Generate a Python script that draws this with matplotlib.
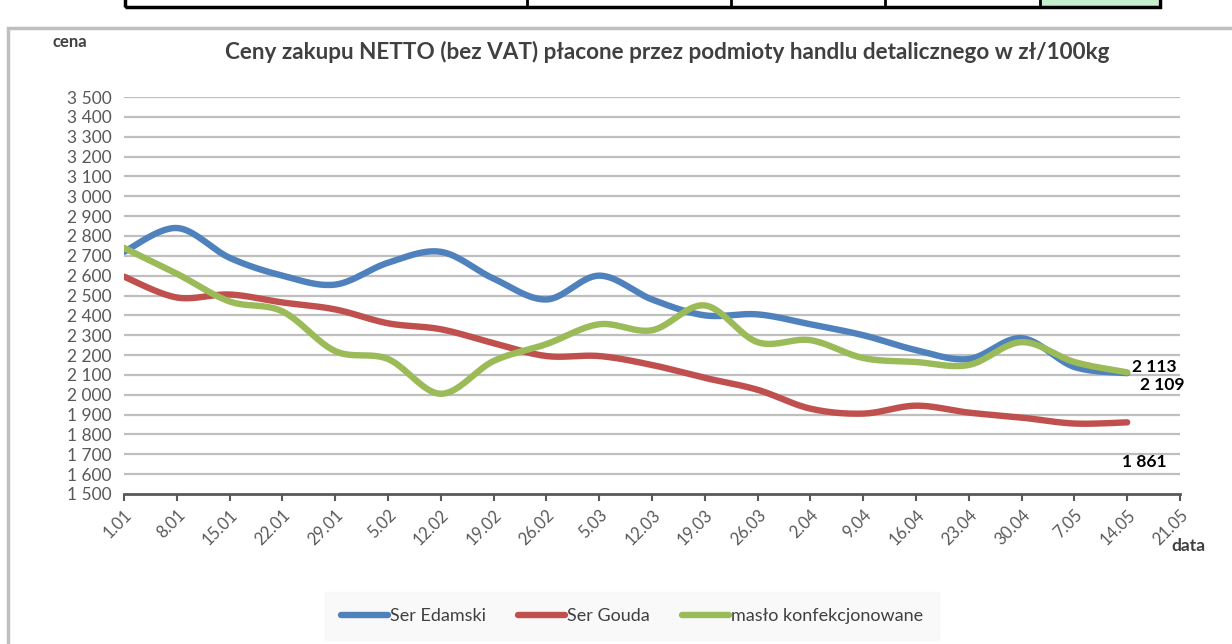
import numpy as np
import matplotlib.pyplot as plt
from matplotlib.patches import Rectangle
from matplotlib.lines import Line2D

plt.rcParams['font.family'] = ['Lato', 'DejaVu Sans']

dates = ['1.01', '8.01', '15.01', '22.01', '29.01', '5.02', '12.02', '19.02', '26.02', '5.03',
         '12.03', '19.03', '26.03', '2.04', '9.04', '16.04', '23.04', '30.04', '7.05', '14.05', '21.05']

edamski = [2720, 2840, 2690, 2600, 2555, 2665, 2720, 2585, 2480, 2600,
           2480, 2400, 2405, 2355, 2300, 2225, 2180, 2285, 2140, 2109]
gouda = [2595, 2490, 2505, 2465, 2430, 2360, 2330, 2260, 2195, 2195,
         2150, 2085, 2025, 1930, 1905, 1945, 1910, 1885, 1855, 1861]
maslo = [2740, 2610, 2470, 2420, 2220, 2180, 2005, 2170, 2255, 2355,
         2325, 2450, 2265, 2275, 2185, 2165, 2150, 2265, 2165, 2113]

names = ['Ser Edamski', 'Ser Gouda', 'masło konfekcjonowane']
colors = ['#4F81BD', '#C0504D', '#9BBB59']


def smooth(y, n=20):
    # excel-like smoothed line (catmull-rom)
    y = np.asarray(y, dtype=float)
    x = np.arange(len(y), dtype=float)
    px = np.concatenate([[x[0]], x, [x[-1]]])
    py = np.concatenate([[y[0]], y, [y[-1]]])
    xs, ys = [], []
    t = np.linspace(0, 1, n, endpoint=False)
    for i in range(1, len(px) - 2):
        p0, p1, p2, p3 = py[i - 1], py[i], py[i + 1], py[i + 2]
        q0, q1, q2, q3 = px[i - 1], px[i], px[i + 1], px[i + 2]
        c1y, c2y = p1 + (p2 - p0) / 6, p2 - (p3 - p1) / 6
        c1x, c2x = q1 + (q2 - q0) / 6, q2 - (q3 - q1) / 6
        b = [(1 - t) ** 3, 3 * (1 - t) ** 2 * t, 3 * (1 - t) * t ** 2, t ** 3]
        xs.append(b[0] * q1 + b[1] * c1x + b[2] * c2x + b[3] * q2)
        ys.append(b[0] * p1 + b[1] * c1y + b[2] * c2y + b[3] * p2)
    xs.append([x[-1]])
    ys.append([y[-1]])
    return np.concatenate(xs), np.concatenate(ys)


fig = plt.figure(figsize=(12.32, 6.44), dpi=100)

# chart frame and table fragment at the top
fig.patches.append(Rectangle((8 / 1232, -0.1), 1.2, (644 - 28) / 644 + 0.1, transform=fig.transFigure,
                             fill=False, edgecolor='#BFBFBF', linewidth=2.5))
fig.patches.append(Rectangle((1042 / 1232, (644 - 7) / 644), 116 / 1232, 0.02, transform=fig.transFigure,
                             facecolor='#C6EFCE', edgecolor='none'))
fig.patches.append(Rectangle((125 / 1232, (644 - 7) / 644), 1035 / 1232, 0.05, transform=fig.transFigure,
                             fill=False, edgecolor='black', linewidth=2.5))
for xc in [527, 731, 885, 1040]:
    fig.add_artist(Line2D([xc / 1232, xc / 1232], [(644 - 7) / 644, 1], transform=fig.transFigure,
                          color='black', linewidth=2))

ax = fig.add_axes([124 / 1232, (644 - 494) / 644, 1056 / 1232, 397 / 644])
ax.set_xlim(0, 20)
ax.set_ylim(1500, 3500)

for v in range(1600, 3501, 100):
    ax.axhline(v, color='#BFBFBF', linewidth=1.6, zorder=1)

for vals, c, nm in zip([edamski, gouda, maslo], colors, names):
    sx, sy = smooth(vals)
    ax.plot(sx, sy, color=c, linewidth=4.6, solid_capstyle='round', zorder=3, label=nm)

ax.text(19.1, maslo[-1] + 25, '2 113', fontsize=12.5, fontweight='bold', ha='left', va='center')
ax.text(19.25, edamski[-1] - 60, '2 109', fontsize=12.5, fontweight='bold', ha='left', va='center')
ax.text(18.9, 1660, '1 861', fontsize=12.5, fontweight='bold', ha='left', va='center')

ax.set_xticks(range(len(dates)))
ax.set_xticklabels(dates, rotation=45, ha='right', rotation_mode='anchor', fontsize=12, color='#595959')
ax.set_yticks(range(1500, 3501, 100))
ax.set_yticklabels([f'{v:,}'.replace(',', ' ') for v in range(1500, 3501, 100)], fontsize=12.5, color='#595959')
ax.tick_params(axis='x', length=5, width=1.5, color='#595959', pad=4)
ax.tick_params(axis='y', length=0, pad=9)
for s in ['top', 'right', 'left']:
    ax.spines[s].set_visible(False)
ax.spines['bottom'].set_color('#595959')
ax.spines['bottom'].set_linewidth(2)

fig.text(667 / 1232, 1 - 52 / 644, 'Ceny zakupu NETTO (bez VAT) płacone przez podmioty handlu detalicznego w zł/100kg',
         ha='center', va='center', fontsize=16.2, fontweight='bold', color='#404040')
fig.text(70 / 1232, 1 - 42 / 644, 'cena', ha='center', va='center', fontsize=12, fontweight='bold', color='#404040')
fig.text(1188 / 1232, 1 - 546 / 644, 'data', ha='center', va='center', fontsize=12.5, fontweight='bold', color='#404040')

leg = fig.legend(loc='center', bbox_to_anchor=(632 / 1232, 1 - 616 / 644), ncol=3, frameon=True,
                 fontsize=13, handlelength=2.6, handletextpad=0.1, columnspacing=1.8, borderpad=0.6)
leg.get_frame().set_facecolor('#F8F8F8')
leg.get_frame().set_edgecolor('#F8F8F8')
leg.get_frame().set_boxstyle('square')
for t in leg.get_texts():
    t.set_color('#404040')

fig.savefig('out.png', dpi=100)
